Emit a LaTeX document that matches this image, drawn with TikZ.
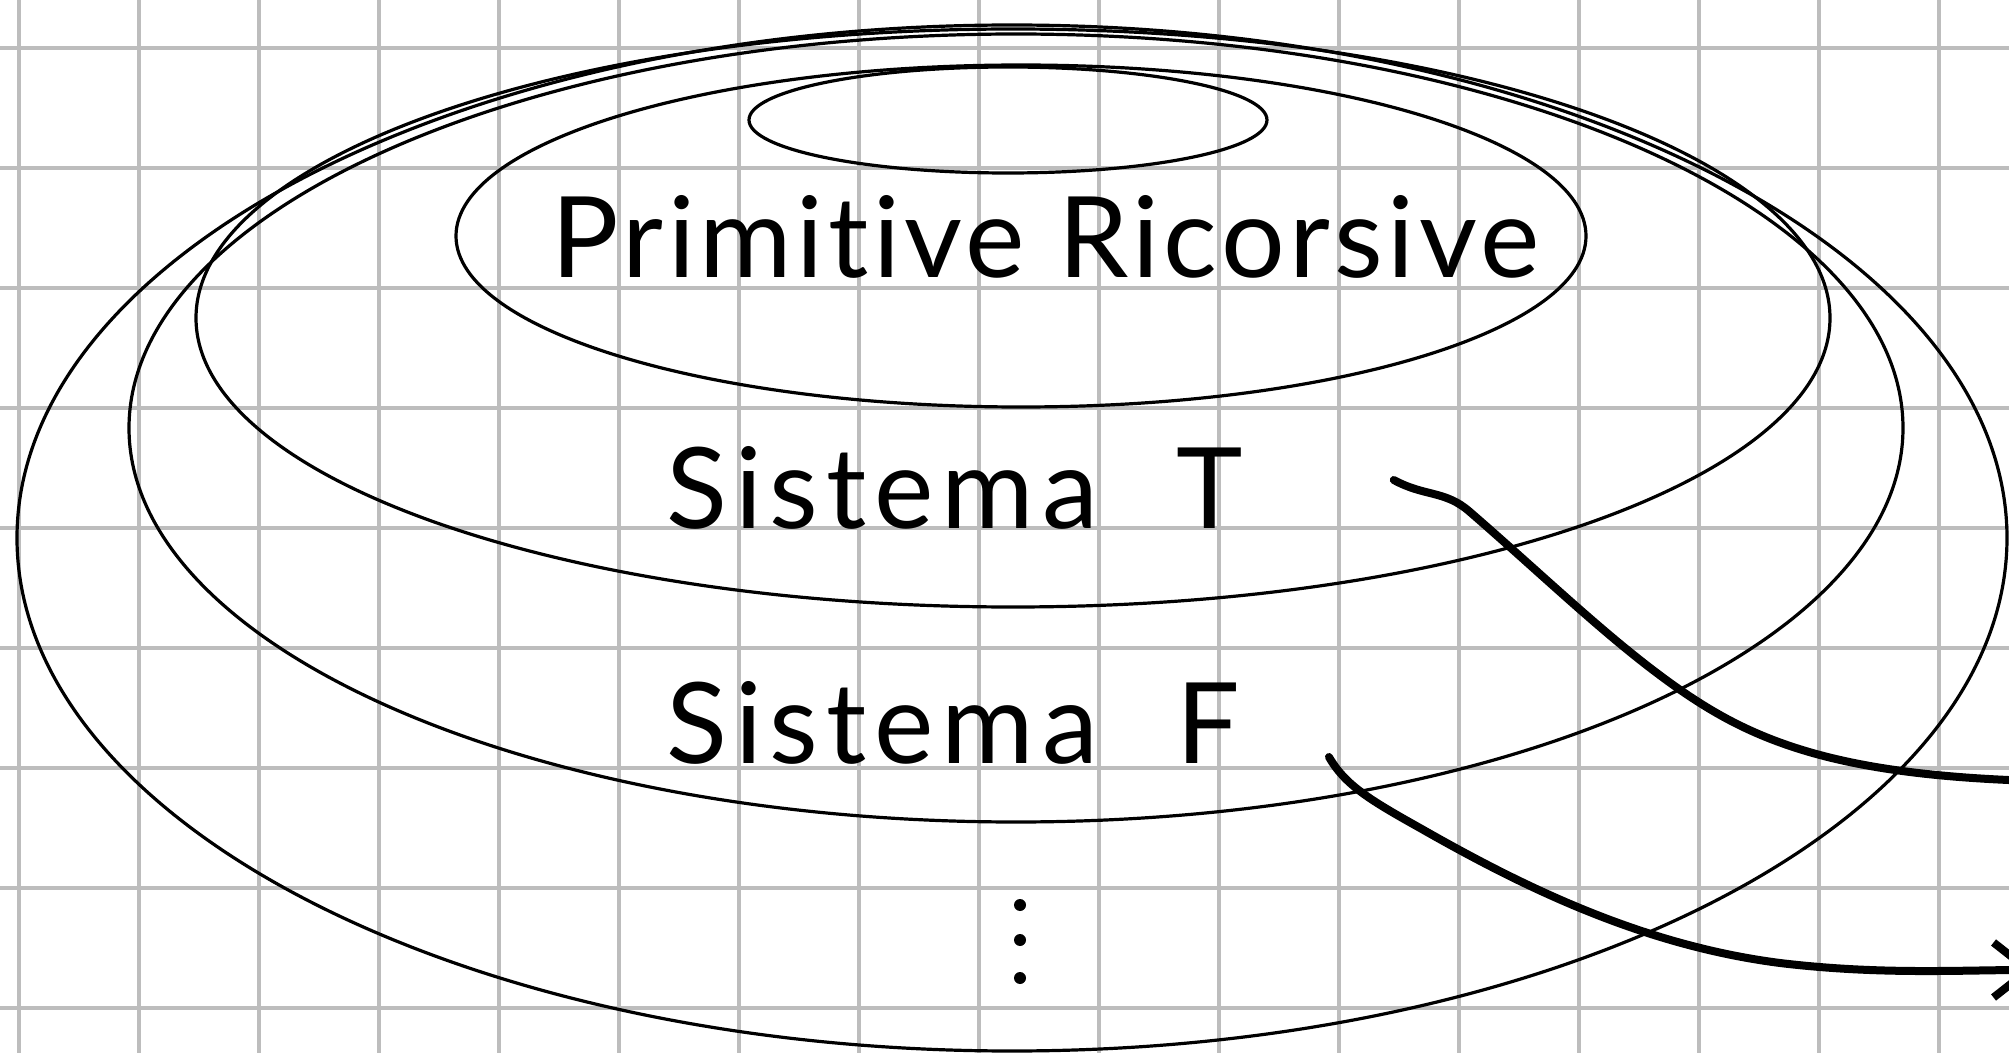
\documentclass[tikz,border=0pt]{standalone}
\usepackage{fontspec}
\setmainfont[Ligatures=NoCommon]{Lato}
\usetikzlibrary{arrows.meta}

\begin{document}
\begin{tikzpicture}[x=0.1mm,y=-0.1mm,
  griglia/.style={draw=black!26,line width=0.4mm},
  insieme/.style={line width=0.32mm},
  scritta/.style={inner sep=0pt,anchor=base west,
    font=\fontsize{32}{38}\selectfont\addfontfeatures{LetterSpace=#1}},
  scritta/.default=7,
  freccia/.style={line width=0.8mm,line cap=round}]
  \useasboundingbox (0,0) rectangle (2009,1053);
  \clip (0,0) rectangle (2009,1053);
  % squared paper
  \foreach \gx in {19,139,...,1939} \draw[griglia] (\gx,0) -- (\gx,1053);
  \foreach \gy in {48,168,...,1008} \draw[griglia] (0,\gy) -- (2009,\gy);
  % nested classes
  \draw[insieme] (1012,538) ellipse [x radius=995,y radius=513];
  \draw[insieme] (1016,428) ellipse [x radius=887,y radius=394];
  \draw[insieme] (1013,318) ellipse [x radius=817,y radius=289];
  \draw[insieme] (1021,236) ellipse [x radius=565,y radius=171];
  \draw[insieme] (1008,120) ellipse [x radius=259,y radius=53];
  \node[scritta=4] (prim) at (551,278) {Primitive Ricorsive};
  \node[scritta] (sisT) at (666,528) {Sistema\hspace{.7em}T};
  \node[scritta] (sisF) at (666,763) {Sistema\hspace{.7em}F};
  \foreach \dy in {905,940,978} \fill (1020,\dy) circle [radius=6];
  % arrows out of the page
  \coordinate (tailT) at ([xshift=15mm,yshift=4.8mm]sisT.base east);
  \coordinate (tailF) at ([xshift=8.8mm,yshift=0.6mm]sisF.base east);
  \draw[freccia,-{Straight Barb[length=3.5mm,width=5.5mm]}] (tailT)
    .. controls (1425,497) and (1445,490) .. (1470,512)
    .. controls (1560,590) and (1640,670) .. (1720,715)
    .. controls (1800,760) and (1900,780) .. (2090,782);
  \draw[freccia,-{Straight Barb[length=3.5mm,width=5.5mm]}] (tailF)
    .. controls (1345,785) and (1370,800) .. (1420,828)
    .. controls (1520,885) and (1640,945) .. (1780,963)
    .. controls (1880,975) and (1960,970) .. (2035,970);
\end{tikzpicture}
\end{document}
